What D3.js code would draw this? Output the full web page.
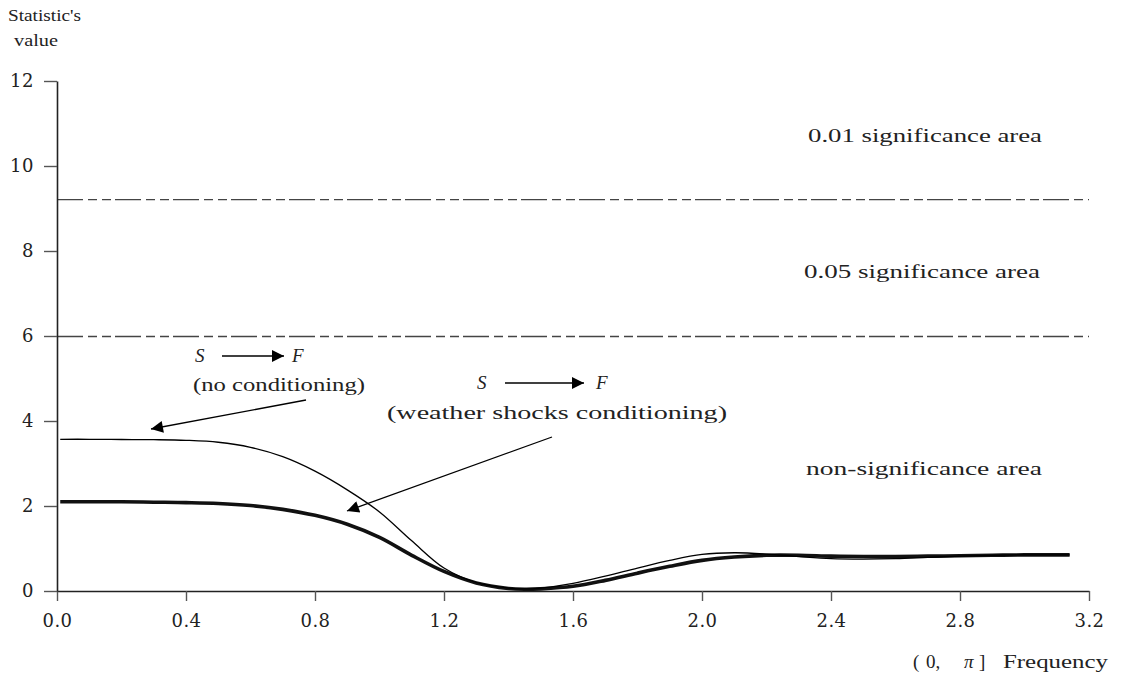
<!DOCTYPE html>
<html>
<head>
<meta charset="utf-8">
<script src="https://cdn.jsdelivr.net/npm/d3@7"></script>
<style>
  body { margin: 0; background: #fff; }
  svg text { font-family: "Liberation Serif", "DejaVu Serif", serif; fill: #222; }
</style>
</head>
<body>
<div id="chart"></div>
<script>

// frequencies (0, pi]
const freq = [0.01, 0.1, 0.2, 0.3, 0.4, 0.5, 0.6, 0.7, 0.8, 0.9, 1.0, 1.1, 1.2, 1.3, 1.4, 1.45, 1.5, 1.6, 1.7, 1.8, 1.9, 2.0, 2.1, 2.2, 2.3, 2.4, 2.5, 2.6, 2.7, 2.8, 2.9, 3.0, 3.14];

// S -> F, no conditioning (thin)
const noConditioning = [3.57, 3.57, 3.565, 3.56, 3.545, 3.50, 3.38, 3.16, 2.82, 2.38, 1.86, 1.18, 0.54, 0.20, 0.07, 0.05, 0.07, 0.18, 0.35, 0.54, 0.72, 0.86, 0.90, 0.87, 0.81, 0.76, 0.75, 0.76, 0.79, 0.82, 0.84, 0.85, 0.85];

// S -> F, weather shocks conditioning (thick)
const weatherConditioning = [2.10, 2.10, 2.10, 2.09, 2.08, 2.06, 2.01, 1.92, 1.78, 1.57, 1.26, 0.84, 0.46, 0.19, 0.06, 0.04, 0.05, 0.11, 0.25, 0.42, 0.58, 0.72, 0.80, 0.84, 0.84, 0.82, 0.81, 0.81, 0.82, 0.83, 0.84, 0.85, 0.85];

// chi-square critical values (2 df)
const critical = [5.99, 9.21];

const xTicks = [0.0, 0.4, 0.8, 1.2, 1.6, 2.0, 2.4, 2.8, 3.2];
const yTicks = [0, 2, 4, 6, 8, 10, 12];

const width = 1121, height = 679;
const margin = {left: 57, right: 32, top: 81, bottom: 88};

const svg = d3.select("#chart").append("svg")
    .attr("width", width)
    .attr("height", height);

const x = d3.scaleLinear()
    .domain([0, 3.2])
    .range([margin.left, width - margin.right]);

const y = d3.scaleLinear()
    .domain([0, 12])
    .range([height - margin.bottom, margin.top]);

// significance lines
svg.selectAll(".crit")
    .data(critical)
    .enter()
    .append("line")
    .attr("class", "crit")
    .attr("x1", x(0))
    .attr("x2", x(3.2))
    .attr("y1", d => y(d))
    .attr("y2", d => y(d))
    .attr("stroke", "#444")
    .attr("stroke-width", 1.4)
    .attr("stroke-dasharray", "26,5,9,5,9,4");

// axes
const xAxis = d3.axisBottom(x)
    .tickValues(xTicks)
    .tickFormat(d3.format(".1f"))
    .tickSizeInner(10)
    .tickSizeOuter(0)
    .tickPadding(13);

const yAxis = d3.axisLeft(y)
    .tickValues(yTicks)
    .tickFormat(d3.format("d"))
    .tickSizeInner(13)
    .tickSizeOuter(0)
    .tickPadding(10);

const gx = svg.append("g")
    .attr("transform", "translate(0," + y(0) + ")")
    .call(xAxis);

const gy = svg.append("g")
    .attr("transform", "translate(" + x(0) + ",0)")
    .call(yAxis);

[gx, gy].forEach(g => {
    g.select(".domain").attr("stroke", "#222").attr("stroke-width", 1.6);
    g.selectAll(".tick line").attr("stroke", "#555").attr("stroke-width", 1.4);
    g.selectAll(".tick text")
        .style("font-family", "'DejaVu Serif', serif")
        .style("font-size", "18px")
        .style("letter-spacing", "0.5px")
        .attr("fill", "#222");
});

// curves
const line = d3.line()
    .curve(d3.curveCatmullRom.alpha(0.5))
    .x(d => x(d[0]))
    .y(d => y(d[1]));

svg.append("path")
    .datum(freq.map((f, i) => [f, weatherConditioning[i]]))
    .attr("fill", "none")
    .attr("stroke", "#111")
    .attr("stroke-width", 3.6)
    .attr("d", line);

svg.append("path")
    .datum(freq.map((f, i) => [f, noConditioning[i]]))
    .attr("fill", "none")
    .attr("stroke", "#000")
    .attr("stroke-width", 1.3)
    .attr("d", line);

// arrowheads
const defs = svg.append("defs");
defs.append("marker")
    .attr("id", "head")
    .attr("viewBox", "0 0 10 10")
    .attr("refX", 10)
    .attr("refY", 5)
    .attr("markerUnits", "userSpaceOnUse")
    .attr("markerWidth", 19)
    .attr("markerHeight", 12)
    .attr("orient", "auto")
    .append("path")
    .attr("d", "M0,0 L10,5 L0,10 Z")
    .attr("fill", "#000");

function arrow(x1, y1, x2, y2, w) {
    svg.append("line")
        .attr("x1", x1).attr("y1", y1)
        .attr("x2", x2).attr("y2", y2)
        .attr("stroke", "#000")
        .attr("stroke-width", w)
        .attr("marker-end", "url(#head)");
}

// pointers to the curves
arrow(306, 400, 151, 429, 1.3);
arrow(552, 437, 347, 511, 1.3);

// labels
function label(txt, tx, ty, len, opts) {
    const t = svg.append("text")
        .attr("x", tx)
        .attr("y", ty)
        .style("font-size", (opts && opts.size ? opts.size : 19) + "px")
        .text(txt);
    if (len) t.attr("textLength", len).attr("lengthAdjust", "spacingAndGlyphs");
    if (opts && opts.italic) t.style("font-style", "italic");
    return t;
}

label("Statistic's", 8, 21, 73, {size: 17});
label("value", 14, 46, 44, {size: 17});

label("0.01 significance area", 808, 142, 234);
label("0.05 significance area", 804, 278, 236);
label("non-significance area", 806, 475, 236);

// S -> F (no conditioning)
label("S", 195, 362, null, {italic: true});
arrow(222, 356, 284, 356, 1.3);
label("F", 292, 362, null, {italic: true});
label("(no conditioning)", 193, 391, 172);

// S -> F (weather shocks conditioning)
label("S", 477, 389, null, {italic: true});
arrow(505, 383, 584, 383, 1.3);
label("F", 596, 389, null, {italic: true});
label("(weather shocks conditioning)", 387, 419, 340);

// frequency axis label
label("(", 913, 668);
label("0,", 926, 668);
label("π", 964, 668, null, {italic: true});
label("]", 979, 668);
label("Frequency", 1003, 668, 105);

</script>
</body>
</html>
